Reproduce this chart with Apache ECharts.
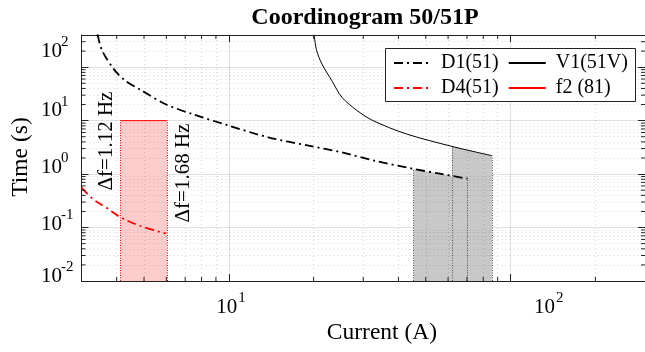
<!DOCTYPE html>
<html><head><meta charset="utf-8">
<script src="https://cdn.jsdelivr.net/npm/echarts@6/dist/echarts.min.js"></script>
<style>html,body{margin:0;padding:0;background:#fff}#c{width:645px;height:352px}</style>
</head><body><div id="c"></div>
<script>
// ---------- data ----------
const titleText = 'Coordinogram 50/51P';
const xAxisTitle = 'Current (A)';
const yAxisTitle = 'Time (s)';
const xTickValues = [10, 100];
const xTickExps = ['1', '2'];
const yTickValues = [0.01, 0.1, 1, 10, 100];
const yTickExps = ['-2', '-1', '0', '1', '2'];
const legendRow1 = ['D1(51)', 'V1(51V)'];
const legendRow2 = ['D4(51)', 'f2 (81)'];

const d1Current = [3.42, 3.55, 3.90, 4.29, 4.91, 5.94, 7.39, 10.0, 13.8, 19.2, 25.2, 33.2, 45.3, 56.0, 70.4];
const d1Time    = [410, 205, 92.9, 56.1, 36.5, 20.5, 13.4, 8.06, 4.87, 3.40, 2.55, 1.76, 1.25, 1.02, 0.82];

const v1Current = [20.07, 20.5, 21.4, 23.2, 25.2, 28.5, 32.5, 42.7, 61.9, 85.9];
const v1Time    = [408, 205, 115, 56.1, 27.3, 15.5, 10.0, 5.63, 3.30, 2.21];

const d4Current = [3.0, 3.30, 3.68, 4.11, 4.83, 5.98];
const d4Time    = [0.556, 0.34, 0.235, 0.158, 0.108, 0.0776];

const f2Current = [4.12, 6.03];
const f2Time    = [10, 10];

const d1ShadeFrom = 45.3;
const v1ShadeFrom = 61.9;

const deltaLabels = ['\u0394f=1.12 Hz', '\u0394f=1.68 Hz'];

// ---------- layout / style ----------
const FONT = '"Liberation Serif","Times New Roman",serif';
const X_MIN = 3, X_MAX = 300, Y_MIN = 0.01, Y_MAX = 400;
const AX = '#222';
const DASHDOT = [9, 4, 2, 4];

const zip = (a, b) => a.map((v, i) => [v, b[i]]);
const d1 = zip(d1Current, d1Time);
const v1 = zip(v1Current, v1Time);
const d4 = zip(d4Current, d4Time);
const f2 = zip(f2Current, f2Time);
const d1Shade = d1.filter(p => p[0] >= d1ShadeFrom);
const v1Shade = v1.filter(p => p[0] >= v1ShadeFrom);

const minorX = [], minorY = [];
for (let e = 0; e <= 2; e++) for (let m = 2; m <= 9; m++) { const v = m * Math.pow(10, e); if (v > X_MIN && v < X_MAX) minorX.push(v); }
for (let e = -2; e <= 2; e++) for (let m = 2; m <= 9; m++) { const v = +(m * Math.pow(10, e)).toPrecision(3); if (v > Y_MIN && v < Y_MAX) minorY.push(v); }

const chart = echarts.init(document.getElementById('c'), null, { renderer: 'canvas' });

function logAxis(pos, min, max, main) {
  return {
    type: 'log', logBase: 10, min, max, position: pos, gridIndex: 0,
    axisLine: { show: true, onZero: false, lineStyle: { color: AX, width: 1 } },
    axisTick: { show: true, inside: true, length: 7, lineStyle: { color: AX, width: 1 } },
    axisLabel: { show: false },
    splitLine: { show: main, lineStyle: { color: 'rgba(0,0,0,0.12)', width: 1 } },
    minorTick: { show: false }, minorSplitLine: { show: false }
  };
}

const tickLen = 4;
function minorTicks(axis) {
  const vals = axis === 'x' ? minorX : minorY;
  return {
    type: 'custom', coordinateSystem: 'cartesian2d', xAxisIndex: 0, yAxisIndex: 0,
    silent: true, z: 6, clip: false,
    data: vals.map(v => axis === 'x' ? [v, Y_MIN] : [X_MIN, v]),
    renderItem: (params, api) => {
      const st = { stroke: AX, lineWidth: 1 };
      if (axis === 'x') {
        const v = api.value(0);
        const p = api.coord([v, Y_MIN]), q = api.coord([v, Y_MAX]);
        return { type: 'group', children: [
          { type: 'line', shape: { x1: p[0], y1: p[1], x2: p[0], y2: p[1] - tickLen }, style: st },
          { type: 'line', shape: { x1: q[0], y1: q[1], x2: q[0], y2: q[1] + tickLen }, style: st }
        ]};
      } else {
        const v = api.value(1);
        const p = api.coord([X_MIN, v]), q = api.coord([X_MAX, v]);
        return { type: 'group', children: [
          { type: 'line', shape: { x1: p[0], y1: p[1], x2: p[0] + tickLen, y2: p[1] }, style: st },
          { type: 'line', shape: { x1: q[0], y1: q[1], x2: q[0] - tickLen, y2: q[1] }, style: st }
        ]};
      }
    }
  };
}

const minorGridStyle = { color: 'rgba(0,0,0,0.16)', width: 1, type: [1, 3] };
const edgeStyleGray = { color: '#555', width: 1, type: [1, 1.5] };
const edgeStyleRed = { color: '#ff0000', width: 1, type: [1, 1.5] };
const ml = (lines, style) => ({ silent: true, symbol: ['none', 'none'], label: { show: false }, animation: false, lineStyle: style, data: lines });
const vEdge = p => [{ coord: [p[0], Y_MIN] }, { coord: [p[0], p[1]] }];

function legendRow(names, top) {
  return {
    data: names, left: 393, top: top, orient: 'horizontal', z: 60,
    padding: 0, itemGap: 9, itemWidth: 37, itemHeight: 20,
    itemStyle: { opacity: 0 },
    formatter: n => ' ' + n,
    textStyle: { fontFamily: FONT, fontSize: 20, color: '#000' },
    selectedMode: false
  };
}

const option = {
  animation: false,
  backgroundColor: '#fff',
  grid: { left: 81.5, top: 35, width: 564, height: 246, containLabel: false },
  xAxis: [ logAxis('bottom', X_MIN, X_MAX, true), logAxis('top', X_MIN, X_MAX, false) ],
  yAxis: [ logAxis('left', Y_MIN, Y_MAX, true), logAxis('right', Y_MIN, Y_MAX, false) ],
  legend: [ legendRow(legendRow1, 53), legendRow(legendRow2, 78) ],
  series: [
    { name: 'minorgrid', type: 'line', data: [], xAxisIndex: 0, yAxisIndex: 0, z: 1,
      markLine: ml(minorX.map(v => ({ xAxis: v })).concat(minorY.map(v => ({ yAxis: v }))), minorGridStyle) },
    { name: 'shadeD1', type: 'line', data: d1Shade, symbol: 'none', silent: true, z: 2,
      lineStyle: { width: 0 }, areaStyle: { color: '#c8c8c8', opacity: 1, origin: 'start' },
      markLine: ml([vEdge(d1Shade[0]), vEdge(d1Shade[d1Shade.length - 1])], edgeStyleGray) },
    { name: 'shadeV1', type: 'line', data: v1Shade, symbol: 'none', silent: true, z: 2,
      lineStyle: { width: 0 }, areaStyle: { color: '#c8c8c8', opacity: 1, origin: 'start' },
      markLine: ml([vEdge(v1Shade[0]), vEdge(v1Shade[v1Shade.length - 1])], edgeStyleGray) },
    { name: 'f2 (81)', type: 'line', data: f2, symbol: 'none', z: 3,
      lineStyle: { color: '#ff0000', width: 1 }, itemStyle: { color: '#ff0000' },
      areaStyle: { color: '#ffcccc', opacity: 1, origin: 'start' },
      markLine: ml([vEdge(f2[0]), vEdge(f2[1])], edgeStyleRed) },
    { name: 'V1(51V)', type: 'line', data: v1, symbol: 'none', smooth: 0.3, z: 4,
      lineStyle: { color: '#000', width: 1 }, itemStyle: { color: '#555' } },
    { name: 'D1(51)', type: 'line', data: d1, symbol: 'none', smooth: 0.3, z: 5,
      lineStyle: { color: '#000', width: 1.8, type: DASHDOT }, itemStyle: { color: '#000' } },
    { name: 'D4(51)', type: 'line', data: d4, symbol: 'none', smooth: 0.4, z: 5,
      lineStyle: { color: '#ff0000', width: 1.8, type: DASHDOT }, itemStyle: { color: '#ff0000' } },
    minorTicks('x'), minorTicks('y')
  ]
};
chart.setOption(option);

// ---------- text as graphics ----------
const xLabelShift = [-2, 34];
const yLabelShift = [5, 3, 7, 10, 16];
const g = [];
g.push({ type: 'rect', z: 50, shape: { x: 385.5, y: 48.5, width: 250, height: 53 }, style: { fill: '#fff', stroke: '#222', lineWidth: 1 } });
xTickValues.forEach((v, i) => {
  const px = chart.convertToPixel({ xAxisIndex: 0 }, v) + xLabelShift[i];
  g.push({ type: 'text', x: px, y: 307, style: { text: '10', font: '21px ' + FONT, fill: '#000', textAlign: 'center', textVerticalAlign: 'middle' } });
  g.push({ type: 'text', x: px + 11.5, y: 298, style: { text: xTickExps[i], font: '15px ' + FONT, fill: '#000', textAlign: 'left', textVerticalAlign: 'middle' } });
});
yTickValues.forEach((v, i) => {
  const py = chart.convertToPixel({ yAxisIndex: 0 }, v) - yLabelShift[i];
  g.push({ type: 'text', x: 41, y: py, style: { text: '10', font: '21px ' + FONT, fill: '#000', textAlign: 'left', textVerticalAlign: 'middle' } });
  g.push({ type: 'text', x: 61, y: py - 9, style: { text: yTickExps[i], font: '15px ' + FONT, fill: '#000', textAlign: 'left', textVerticalAlign: 'middle' } });
});
g.push({ type: 'text', x: 365, y: 18, style: { text: titleText, font: 'bold 24px ' + FONT, fill: '#000', textAlign: 'center', textVerticalAlign: 'middle' } });
g.push({ type: 'text', x: 382, y: 333, style: { text: xAxisTitle, font: '23.5px ' + FONT, fill: '#000', textAlign: 'center', textVerticalAlign: 'middle' } });
g.push({ type: 'text', x: 21, y: 157, rotation: Math.PI / 2, style: { text: yAxisTitle, font: '23.5px ' + FONT, fill: '#000', textAlign: 'center', textVerticalAlign: 'middle' } });
g.push({ type: 'text', x: 106, y: 141, rotation: Math.PI / 2, z: 10, style: { text: deltaLabels[0], font: '21px ' + FONT, fill: '#000', textAlign: 'center', textVerticalAlign: 'middle' } });
g.push({ type: 'text', x: 183, y: 173, rotation: Math.PI / 2, z: 10, style: { text: deltaLabels[1], font: '21px ' + FONT, fill: '#000', textAlign: 'center', textVerticalAlign: 'middle' } });
chart.setOption({ graphic: g });
</script></body></html>
